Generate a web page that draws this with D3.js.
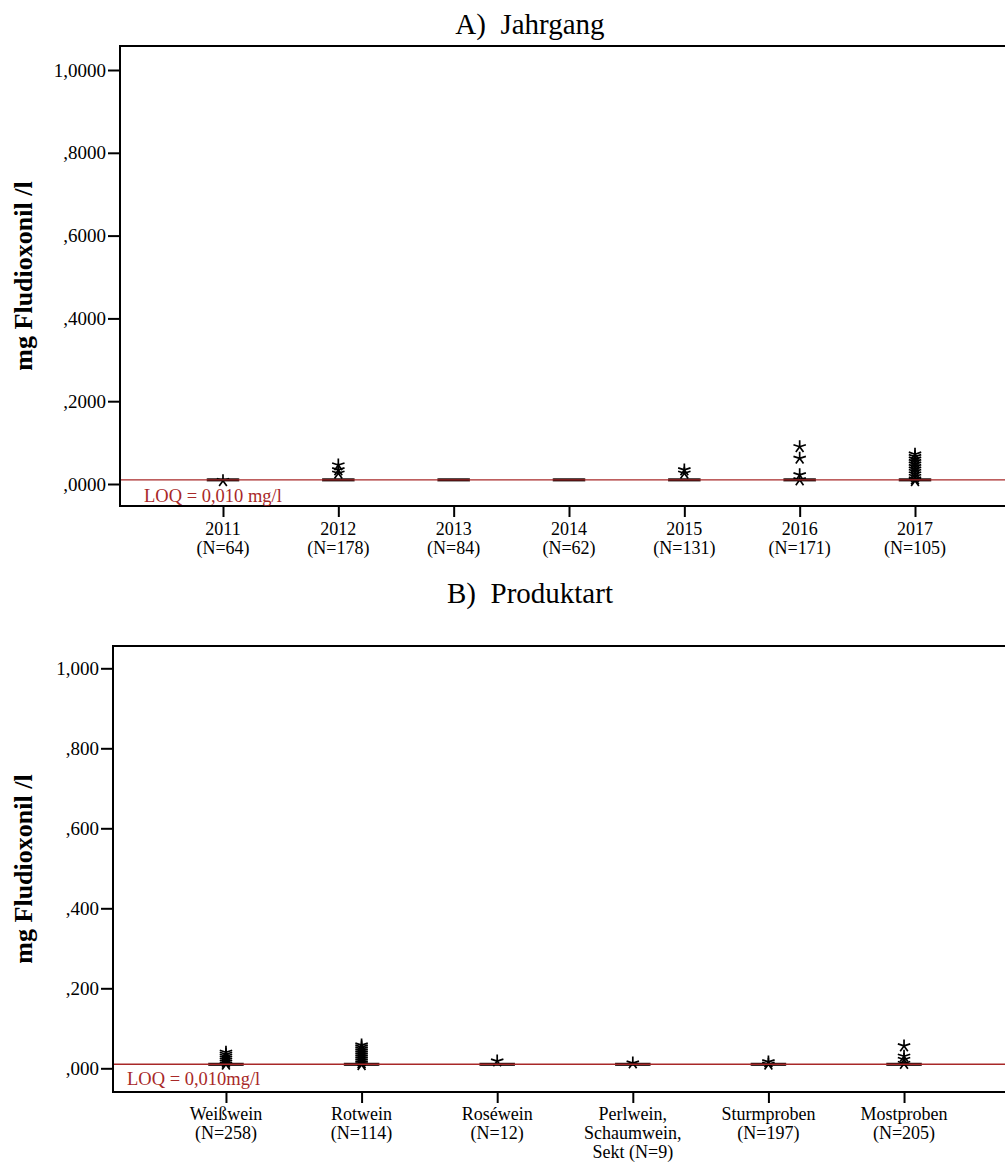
<!DOCTYPE html>
<html>
<head>
<meta charset="utf-8">
<script src="https://cdn.jsdelivr.net/npm/d3@7"></script>
<style>
html,body{margin:0;padding:0;background:#fff;}
svg{display:block;font-family:"Liberation Serif","Times New Roman",serif;}
</style>
</head>
<body>
<svg id="chart" width="1005" height="1163"></svg>
<script>
// ---------- Data ----------
const catsA = ["2011","2012","2013","2014","2015","2016","2017"];
const nA = ["(N=64)","(N=178)","(N=84)","(N=62)","(N=131)","(N=171)","(N=105)"];
const medianA = [0.01,0.01,0.01,0.01,0.01,0.01,0.01];
const q1A = [0.0093,0.0093,0.0093,0.0093,0.0093,0.0093,0.0093];
const q3A = [0.0107,0.0107,0.0107,0.0107,0.0107,0.0107,0.0107];
const extremesA = [
  [0.008],
  [0.046,0.034,0.026],
  [],
  [],
  [0.034,0.026],
  [0.090,0.062,0.022,0.010],
  [0.072,0.066,0.060,0.054,0.048,0.042,0.036,0.030,0.024,0.018,0.012,0.008]
];
const ticksA = [0,0.2,0.4,0.6,0.8,1.0];
const tickLabelsA = [",0000",",2000",",4000",",6000",",8000","1,0000"];

const catsB = [["Weißwein","(N=258)"],["Rotwein","(N=114)"],["Roséwein","(N=12)"],
               ["Perlwein,","Schaumwein,","Sekt (N=9)"],["Sturmproben","(N=197)"],["Mostproben","(N=205)"]];
const medianB = [0.01,0.01,0.01,0.01,0.01,0.01];
const q1B = [0.0093,0.0093,0.0093,0.0093,0.0093,0.0093];
const q3B = [0.0107,0.0107,0.0107,0.0107,0.0107,0.0107];
const extremesB = [
  [0.040,0.035,0.030,0.025,0.020,0.015,0.010],
  [0.058,0.053,0.048,0.043,0.038,0.033,0.028,0.023,0.018,0.013,0.009],
  [0.018],
  [0.013],
  [0.016,0.010],
  [0.056,0.030,0.022,0.012]
];
const ticksB = [0,0.2,0.4,0.6,0.8,1.0];
const tickLabelsB = [",000",",200",",400",",600",",800","1,000"];

const LOQ = 0.01;
const titleA = "A)\u00a0\u00a0Jahrgang";
const titleB = "B)\u00a0\u00a0Produktart";
const yLabel = "mg Fludioxonil /l";
const loqTextA = "LOQ = 0,010 mg/l";
const loqTextB = "LOQ = 0,010mg/l";

// ---------- Drawing ----------
const svg = d3.select("#chart");
const RED = "#a82828";

const starType = {
  draw(context, size) {
    const r = Math.sqrt(size) / 2;
    for (let k = 0; k < 5; k++) {
      const a = -Math.PI / 2 + k * 2 * Math.PI / 5;
      context.moveTo(0, 0);
      context.lineTo(r * Math.cos(a), r * Math.sin(a));
    }
  }
};
const star = d3.symbol().type(starType).size(170);

function panel(cfg) {
  const g = svg.append("g");
  const y = d3.scaleLinear().domain([0, 1]).range([cfg.y0, cfg.y1]);
  const x = d3.scalePoint().domain(d3.range(cfg.cats.length)).range([cfg.left, cfg.right]).padding(cfg.pad);

  // title
  g.append("text").attr("x", 530).attr("y", cfg.titleY).attr("text-anchor", "middle")
    .attr("font-size", 29).text(cfg.title);

  // frame top
  g.append("line").attr("x1", cfg.left).attr("x2", 1005).attr("y1", cfg.top).attr("y2", cfg.top)
    .attr("stroke", "#000").attr("stroke-width", 2);

  // y axis
  const yAxis = d3.axisLeft(y).tickValues(cfg.ticks).tickSize(12).tickPadding(2)
    .tickFormat((d, i) => cfg.tickLabels[i]);
  const ya = g.append("g").attr("transform", `translate(${cfg.left},0)`).call(yAxis);
  ya.select(".domain").remove();
  ya.selectAll(".tick line").attr("stroke-width", 2);
  ya.selectAll(".tick text").attr("font-size", 19).attr("font-family", "Liberation Serif").attr("fill", "#000");
  g.append("line").attr("x1", cfg.left).attr("x2", cfg.left).attr("y1", cfg.top - 1).attr("y2", cfg.bottom + 1)
    .attr("stroke", "#000").attr("stroke-width", 2);

  // x axis
  const xAxis = d3.axisBottom(x).tickSize(11).tickFormat("");
  const xa = g.append("g").attr("transform", `translate(0,${cfg.bottom})`).call(xAxis);
  xa.select(".domain").remove();
  xa.selectAll(".tick line").attr("stroke-width", 2);
  g.append("line").attr("x1", cfg.left).attr("x2", 1005).attr("y1", cfg.bottom).attr("y2", cfg.bottom)
    .attr("stroke", "#000").attr("stroke-width", 2);

  // category labels (one text per line)
  cfg.cats.forEach((lines, i) => {
    lines.forEach((ln, j) => {
      g.append("text").attr("text-anchor", "middle").attr("font-size", 18)
        .attr("x", x(i)).attr("y", cfg.labelY + j * 19).text(ln);
    });
  });

  // y label
  g.append("text").attr("transform", `translate(32,${(cfg.top + cfg.bottom) / 2}) rotate(-90)`)
    .attr("text-anchor", "middle").attr("font-weight", "bold").attr("font-size", 26).text(yLabel);

  // boxes
  cfg.cats.forEach((c, i) => {
    g.append("rect").attr("x", x(i) - cfg.boxW / 2).attr("width", cfg.boxW)
      .attr("y", y(cfg.q3[i])).attr("height", Math.max(0.5, y(cfg.q1[i]) - y(cfg.q3[i])))
      .attr("fill", "#4a1414").attr("stroke", "#1a0a0a").attr("stroke-width", 2.5);
    g.append("line").attr("x1", x(i) - cfg.boxW / 2).attr("x2", x(i) + cfg.boxW / 2)
      .attr("y1", y(cfg.median[i])).attr("y2", y(cfg.median[i])).attr("stroke", "#000").attr("stroke-width", 2);
  });

  // extremes
  cfg.extremes.forEach((vals, i) => {
    g.selectAll(null).data(vals).enter().append("path")
      .attr("d", star).attr("transform", d => `translate(${x(i)},${y(d)})`)
      .attr("fill", "none").attr("stroke", "#000").attr("stroke-width", 1.7);
  });

  // LOQ line
  g.append("line").attr("x1", cfg.left + 1).attr("x2", 1005).attr("y1", y(LOQ)).attr("y2", y(LOQ))
    .attr("stroke", RED).attr("stroke-width", 1.4);
  g.append("text").attr("x", cfg.loqX).attr("y", cfg.loqY).attr("font-size", 18.5).attr("fill", RED).text(cfg.loqText);
}

panel({
  title: titleA, titleY: 34, cats: catsA.map((c, i) => [c, nA[i]]),
  median: medianA, q1: q1A, q3: q3A, extremes: extremesA,
  ticks: ticksA, tickLabels: tickLabelsA,
  left: 120, right: 1018, pad: 0.893, top: 46, bottom: 506, y0: 484, y1: 70,
  boxW: 30, labelY: 535, loqX: 144, loqY: 502, loqText: loqTextA
});
panel({
  title: titleB, titleY: 603, cats: catsB,
  median: medianB, q1: q1B, q3: q3B, extremes: extremesB,
  ticks: ticksB, tickLabels: tickLabelsB,
  left: 113, right: 1017, pad: 0.833, top: 646, bottom: 1092, y0: 1068.3, y1: 668.3,
  boxW: 33, labelY: 1120, loqX: 127, loqY: 1085, loqText: loqTextB
});
</script>
</body>
</html>
